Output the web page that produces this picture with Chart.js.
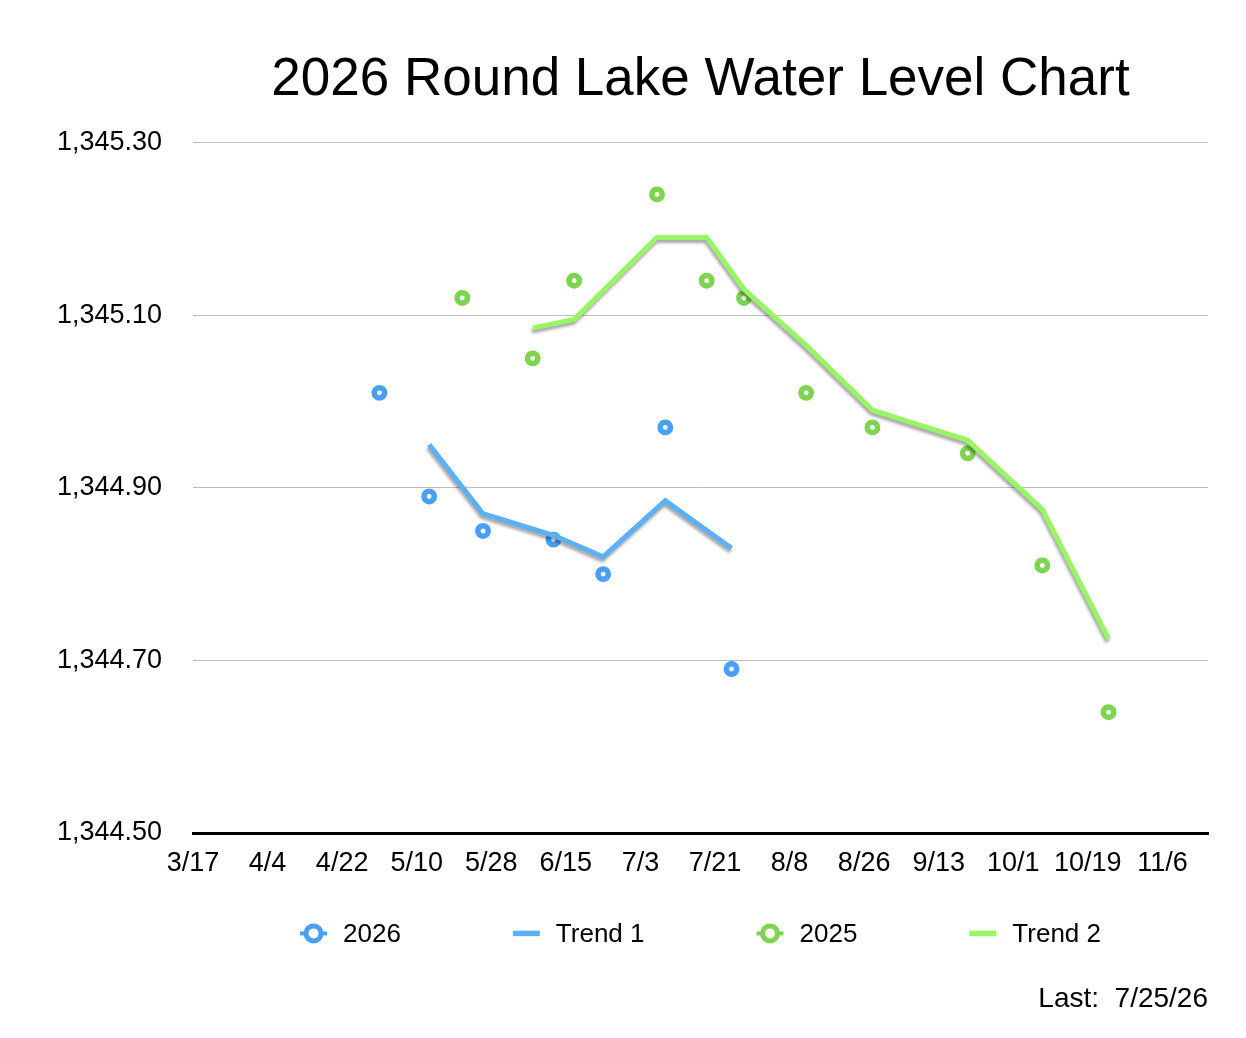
<!DOCTYPE html>
<html>
<head>
<meta charset="utf-8">
<title>2026 Round Lake Water Level Chart</title>
<script src="https://cdn.jsdelivr.net/npm/chart.js@4.4.1/dist/chart.umd.min.js"></script>
<style>
  html, body { margin: 0; padding: 0; background: #fff; }
  #wrap { width: 1246px; height: 1038px; }
</style>
</head>
<body>
<div id="wrap"><canvas id="levelChart"></canvas></div>
<script>
// axis ticks (month/day) and range
const xTickLabels = ['3/17', '4/4', '4/22', '5/10', '5/28', '6/15', '7/3', '7/21', '8/8', '8/26', '9/13', '10/1', '10/19', '11/6'];
const xRange = ['3/17', '11/17'];
const yTicks = [1344.5, 1344.7, 1344.9, 1345.1, 1345.3];

// 2026 readings
const dates2026 = ['5/1', '5/13', '5/26', '6/12', '6/24', '7/9', '7/25'];
const levels2026 = [1345.01, 1344.89, 1344.85, 1344.84, 1344.80, 1344.97, 1344.69];
const trend1Dates = ['5/13', '5/26', '6/12', '6/24', '7/9', '7/25'];
const trend1 = [1344.95, 1344.87, 1344.845, 1344.82, 1344.885, 1344.83];

// 2025 readings
const dates2025 = ['5/21', '6/7', '6/17', '7/7', '7/19', '7/28', '8/12', '8/28', '9/20', '10/8', '10/24'];
const levels2025 = [1345.12, 1345.05, 1345.14, 1345.24, 1345.14, 1345.12, 1345.01, 1344.97, 1344.94, 1344.81, 1344.64];
const trend2Dates = ['6/7', '6/17', '7/7', '7/19', '7/28', '8/12', '8/28', '9/20', '10/8', '10/24'];
const trend2 = [1345.085, 1345.095, 1345.19, 1345.19, 1345.13, 1345.065, 1344.99, 1344.955, 1344.875, 1344.725];

const FONT = "Helvetica, Arial, 'Liberation Sans', sans-serif";
const BLUE = '#4a9ff5';
const BLUE_LINE = '#5cb1f6';
const GREEN = '#7dd44f';
const GREEN_LINE = '#98f563';

const monthStart = [0, 31, 59, 90, 120, 151, 181, 212, 243, 273, 304, 334];
function toDay(md) {
    const [m, d] = md.split('/').map(Number);
    return monthStart[m - 1] + d;
}
function pts(dates, values) {
    return dates.map((d, i) => ({ x: toDay(d), y: values[i] }));
}

// soft shadow under the trend lines
const shadowPlugin = {
    id: 'lineShadow',
    beforeDatasetDraw(chart, args) {
        if (!chart.data.datasets[args.index].showLine) return;
        const ctx = chart.ctx;
        ctx.save();
        ctx.shadowColor = 'rgba(0, 0, 0, 0.35)';
        ctx.shadowBlur = 3;
        ctx.shadowOffsetX = -1;
        ctx.shadowOffsetY = 3;
    },
    afterDatasetDraw(chart, args) {
        if (chart.data.datasets[args.index].showLine) chart.ctx.restore();
    }
};

// legend row drawn under the x axis
const legendPlugin = {
    id: 'rowLegend',
    afterDraw(chart) {
        const ctx = chart.ctx;
        const area = chart.chartArea;
        const y = chart.scales.x.bottom + 40;
        const markW = 27, textGap = 16, itemGap = 112;
        ctx.save();
        ctx.font = '26px ' + FONT;
        ctx.textBaseline = 'middle';
        const items = chart.data.datasets.map(ds => ({ ds, w: ctx.measureText(ds.label).width }));
        const total = items.reduce((s, it) => s + markW + textGap + it.w, 0) + itemGap * (items.length - 1);
        let x = (area.left + area.right) / 2 - total / 2;
        items.forEach(({ ds, w }) => {
            if (ds.showLine) {
                ctx.strokeStyle = ds.borderColor;
                ctx.lineWidth = 5.5;
                ctx.beginPath(); ctx.moveTo(x, y); ctx.lineTo(x + markW, y); ctx.stroke();
            } else {
                ctx.strokeStyle = ds.pointBorderColor;
                ctx.lineWidth = 4;
                ctx.beginPath(); ctx.moveTo(x, y); ctx.lineTo(x + markW, y); ctx.stroke();
                ctx.beginPath();
                ctx.arc(x + markW / 2, y, 7.5, 0, Math.PI * 2);
                ctx.fillStyle = '#fff';
                ctx.fill();
                ctx.lineWidth = 5;
                ctx.stroke();
            }
            ctx.fillStyle = '#000';
            ctx.fillText(ds.label, x + markW + textGap, y + 1);
            x += markW + textGap + w + itemGap;
        });
        ctx.restore();
    }
};

const ctx = document.getElementById('levelChart').getContext('2d');
const levelChart = new Chart(ctx, {
    type: 'scatter',
    data: {
        datasets: [{
            label: '2026',
            data: pts(dates2026, levels2026),
            showLine: false,
            pointRadius: 5.2,
            pointBorderWidth: 5.5,
            pointBorderColor: BLUE,
            pointBackgroundColor: '#fff',
            order: 1
        }, {
            label: 'Trend 1',
            data: pts(trend1Dates, trend1),
            showLine: true,
            borderColor: BLUE_LINE,
            borderWidth: 5,
            borderJoinStyle: 'miter',
            pointRadius: 0,
            order: 0
        }, {
            label: '2025',
            data: pts(dates2025, levels2025),
            showLine: false,
            pointRadius: 5.2,
            pointBorderWidth: 5.5,
            pointBorderColor: GREEN,
            pointBackgroundColor: '#fff',
            order: 1
        }, {
            label: 'Trend 2',
            data: pts(trend2Dates, trend2),
            showLine: true,
            borderColor: GREEN_LINE,
            borderWidth: 5,
            borderJoinStyle: 'miter',
            pointRadius: 0,
            order: 0
        }]
    },
    options: {
        responsive: true,
        maintainAspectRatio: false,
        animation: false,
        layout: { padding: { top: 0, right: 38, bottom: 0, left: 0 } },
        scales: {
            x: {
                type: 'linear',
                min: toDay(xRange[0]),
                max: toDay(xRange[1]),
                afterBuildTicks: scale => {
                    scale.ticks = xTickLabels.map(t => ({ value: toDay(t) }));
                },
                ticks: {
                    callback: (value, index) => xTickLabels[index],
                    font: { family: FONT, size: 27 },
                    color: '#000',
                    padding: 14,
                    maxRotation: 0,
                    autoSkip: false
                },
                grid: { display: false, drawTicks: false },
                border: { display: true, color: '#000', width: 3 }
            },
            y: {
                min: yTicks[0],
                max: yTicks[yTicks.length - 1],
                afterBuildTicks: scale => {
                    scale.ticks = yTicks.map(v => ({ value: v }));
                },
                afterFit: scale => { scale.width = 193; },
                ticks: {
                    callback: value => value.toLocaleString('en-US', { minimumFractionDigits: 2, maximumFractionDigits: 2 }),
                    font: { family: FONT, size: 27 },
                    color: '#000',
                    padding: 31
                },
                grid: { color: '#bdbdbd', lineWidth: 1, drawTicks: false },
                border: { display: false }
            }
        },
        plugins: {
            legend: { display: false },
            tooltip: { enabled: false },
            title: {
                display: true,
                text: '2026 Round Lake Water Level Chart',
                fullSize: false,
                color: '#000',
                font: { family: FONT, size: 53, weight: 'normal' },
                padding: { top: 49, bottom: 30 }
            },
            subtitle: {
                display: true,
                text: 'Last:  7/25/26',
                position: 'bottom',
                align: 'end',
                fullSize: false,
                color: '#000',
                font: { family: FONT, size: 28, weight: 'normal' },
                padding: { top: 89, bottom: 22 }
            }
        }
    },
    plugins: [shadowPlugin, legendPlugin]
});
</script>
</body>
</html>
